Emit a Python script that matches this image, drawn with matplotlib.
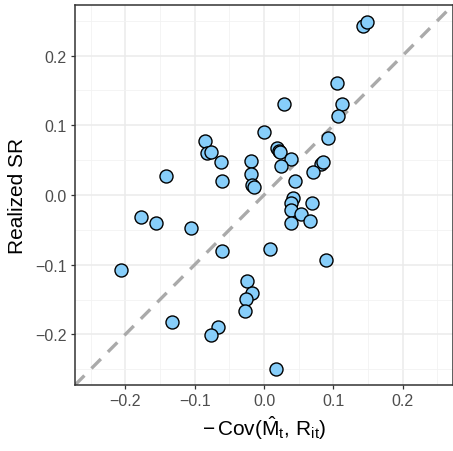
import matplotlib
matplotlib.use("Agg")
import matplotlib.pyplot as plt
from matplotlib.ticker import MultipleLocator

plt.rcParams['font.family'] = ['Liberation Sans', 'DejaVu Sans']
plt.rcParams['mathtext.fontset'] = 'custom'
plt.rcParams['mathtext.rm'] = 'Liberation Sans'
plt.rcParams['mathtext.it'] = 'Liberation Sans'
plt.rcParams['mathtext.bf'] = 'Liberation Sans:bold'

# Data
neg_cov = [-0.141, -0.085, -0.0815, -0.076, -0.062, -0.060, -0.019, -0.019, -0.0177, -0.0144,
           0.000, 0.143, 0.149, 0.105, 0.112, 0.106, 0.029, 0.0925, 0.019, 0.0216,
           0.023, 0.039, 0.025, 0.0824, 0.0853, 0.0705, 0.0446, 0.042, 0.0384, 0.0393,
           0.0695, 0.0537, 0.0393, 0.0662, 0.009, 0.089, 0.018, -0.178, -0.156, -0.105,
           -0.061, -0.206, -0.024, -0.018, -0.026, -0.028, -0.132, -0.066, -0.077]
realized_sr = [0.027, 0.078, 0.060, 0.061, 0.047, 0.020, 0.049, 0.030, 0.0143, 0.0119,
               0.090, 0.243, 0.248, 0.160, 0.130, 0.114, 0.130, 0.0818, 0.067, 0.0636,
               0.061, 0.052, 0.042, 0.0445, 0.047, 0.0326, 0.0205, -0.0047, -0.0115, -0.0211,
               -0.0115, -0.0273, -0.0402, -0.0369, -0.078, -0.093, -0.249, -0.0316, -0.040, -0.048,
               -0.080, -0.107, -0.123, -0.140, -0.149, -0.167, -0.182, -0.189, -0.201]
ticks = [-0.2, -0.1, 0.0, 0.1, 0.2]
tick_labels = ["\u22120.2", "\u22120.1", "0.0", "0.1", "0.2"]
lim = 0.2725

fig = plt.figure(figsize=(4.53, 4.52), dpi=100)
ax = fig.add_axes([75/453, 1 - 386/452, 378/453, 380/452])

ax.set_xlim(-lim, lim)
ax.set_ylim(-lim, lim)

ax.set_xticks(ticks)
ax.set_xticklabels(tick_labels)
ax.set_yticks(ticks)
ax.set_yticklabels(tick_labels)
ax.xaxis.set_minor_locator(MultipleLocator(0.05))
ax.yaxis.set_minor_locator(MultipleLocator(0.05))

ax.grid(True, which='major', color='#EBEBEB', linewidth=1.1, zorder=0)
ax.grid(True, which='minor', color='#F2F2F2', linewidth=0.6, zorder=0)
ax.set_axisbelow(True)
ax.tick_params(which='minor', length=0)
ax.tick_params(which='major', length=3, width=0.9, color='#333333',
               labelsize=11.5, labelcolor='#4D4D4D', pad=3)

for s in ax.spines.values():
    s.set_color('#333333')
    s.set_linewidth(1.1)

ax.plot([-lim, lim], [-lim, lim], color='#AAAAAA', linewidth=2.4,
        dashes=(4, 3), zorder=1)

ax.scatter(neg_cov, realized_sr, s=88, facecolor='#87CEFA', edgecolor='black',
           linewidth=1.0, zorder=3)

ax.set_xlabel(r'$-\,\mathrm{Cov}(\hat{\mathrm{M}}_{\mathrm{t}},\,\mathrm{R}_{\mathrm{it}})$',
              fontsize=15, labelpad=4)
ax.set_ylabel('Realized SR', fontsize=15, labelpad=6)

fig.savefig('out.png', dpi=100)
